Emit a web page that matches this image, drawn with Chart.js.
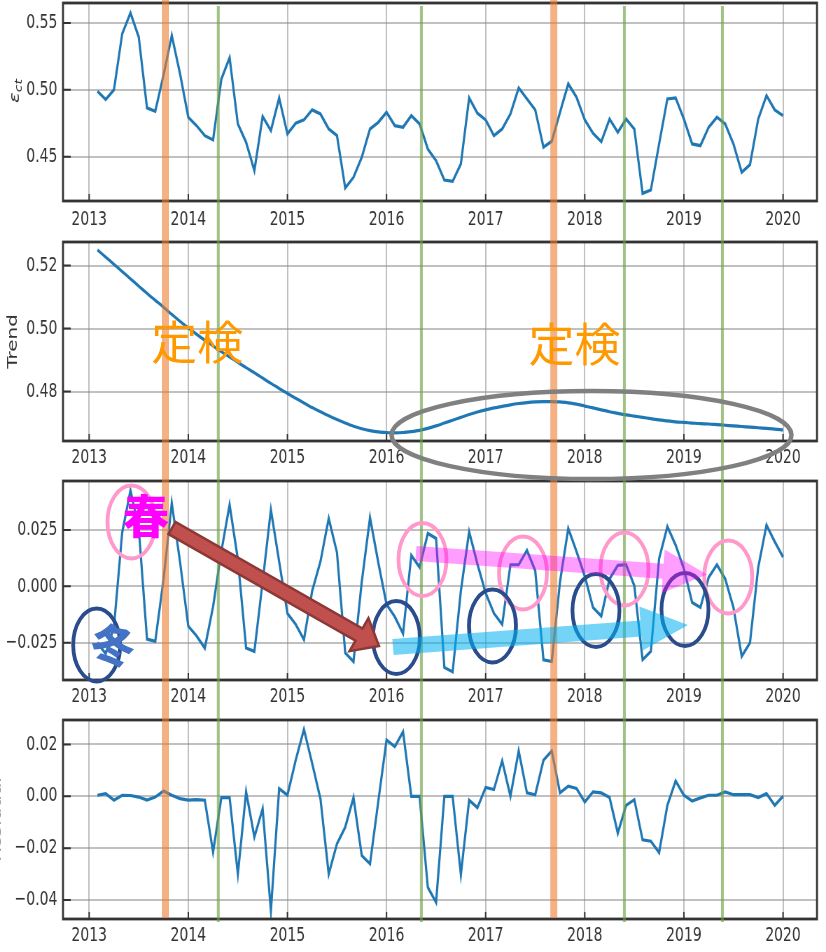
<!DOCTYPE html>
<html>
<head>
<meta charset="utf-8">
<title>ε_ct decomposition</title>
<script src="https://cdn.jsdelivr.net/npm/chart.js@4.4.1/dist/chart.umd.min.js"></script>
<style>
  html, body { margin: 0; padding: 0; background: #fff; }
  #stage { position: relative; width: 826px; height: 952px; overflow: hidden; background: #fff; }
  #overlay { position: absolute; left: 0; top: 0; z-index: 5; }
</style>
</head>
<body>
<div id="stage">
  <canvas id="pEct"></canvas>
  <canvas id="pTrend"></canvas>
  <canvas id="pSeasonal"></canvas>
  <canvas id="pResid"></canvas>
  <canvas id="overlay" width="826" height="952"></canvas>
</div>
<script>
// ---------------------------------------------------------------------------
// Monthly series 2013-01 .. 2019-12 (month-end samples)
// ---------------------------------------------------------------------------
const months = [];
for (let y = 2013; y <= 2019; y++) {
  for (let m = 1; m <= 12; m++) months.push(y + '-' + String(m).padStart(2, '0'));
}
// month-end position on a decimal-year axis
const monthPos = months.map(s => Number(s.slice(0, 4)) + Number(s.slice(5)) / 12);

const yearTicks = [2013, 2014, 2015, 2016, 2017, 2018, 2019, 2020];

const ectValues = [
  0.4990, 0.4927, 0.5000, 0.5420, 0.5575, 0.5395, 0.4865, 0.4840, 0.5110, 0.5407, 0.5120, 0.4795,
  0.4732, 0.4657, 0.4625, 0.5080, 0.5240, 0.4745, 0.4607, 0.4395, 0.4800, 0.4695, 0.4940, 0.4670,
  0.4750, 0.4775, 0.4850, 0.4820, 0.4707, 0.4657, 0.4265, 0.4345, 0.4495, 0.4707, 0.4757, 0.4832,
  0.4732, 0.4720, 0.4807, 0.4745, 0.4557, 0.4470, 0.4325, 0.4315, 0.4445, 0.4940, 0.4825, 0.4775,
  0.4657, 0.4707, 0.4820, 0.5015, 0.4932, 0.4850, 0.4570, 0.4615, 0.4832, 0.5045, 0.4945, 0.4775,
  0.4675, 0.4612, 0.4782, 0.4682, 0.4782, 0.4707, 0.4225, 0.4250, 0.4595, 0.4932, 0.4940, 0.4782,
  0.4595, 0.4582, 0.4720, 0.4795, 0.4745, 0.4595, 0.4382, 0.4440, 0.4782, 0.4957, 0.4850, 0.4807
];

const trendValues = [
  0.5250, 0.5227, 0.5204, 0.5181, 0.5158, 0.5135, 0.5112, 0.5090, 0.5068, 0.5045, 0.5023, 0.5002,
  0.4982, 0.4963, 0.4945, 0.4927, 0.4910, 0.4893, 0.4876, 0.4860, 0.4843, 0.4826, 0.4810, 0.4794,
  0.4779, 0.4764, 0.4749, 0.4736, 0.4723, 0.4711, 0.4700, 0.4690, 0.4682, 0.4676, 0.4672, 0.4670,
  0.4669, 0.4670, 0.4673, 0.4677, 0.4683, 0.4691, 0.4700, 0.4709, 0.4718, 0.4727, 0.4735, 0.4742,
  0.4748, 0.4753, 0.4758, 0.4762, 0.4765, 0.4767, 0.4768, 0.4768, 0.4767, 0.4764, 0.4760, 0.4754,
  0.4748, 0.4742, 0.4736, 0.4731, 0.4726, 0.4722, 0.4718, 0.4714, 0.4710, 0.4707, 0.4704, 0.4702,
  0.4700, 0.4698, 0.4697, 0.4695, 0.4693, 0.4691, 0.4689, 0.4687, 0.4685, 0.4683, 0.4681, 0.4678
];

const seasonalValues = [
  -0.0250, -0.0300, -0.0180, 0.0240, 0.0425, 0.0260, -0.0234, -0.0244, 0.0030, 0.0370, 0.0108, -0.0177,
  -0.0220, -0.0274, -0.0090, 0.0155, 0.0362, 0.0120, -0.0274, -0.0289, 0.0020, 0.0340, 0.0110, -0.0120,
  -0.0169, -0.0237, -0.0020, 0.0110, 0.0302, 0.0150, -0.0296, -0.0334, 0.0020, 0.0305, 0.0106, -0.0080,
  -0.0135, -0.0210, 0.0138, 0.0085, 0.0235, 0.0213, -0.0360, -0.0380, -0.0020, 0.0243, 0.0100, -0.0030,
  -0.0120, -0.0169, 0.0096, 0.0096, 0.0160, 0.0070, -0.0326, -0.0334, 0.0020, 0.0257, 0.0155, 0.0045,
  -0.0094, -0.0132, 0.0033, 0.0093, 0.0096, 0.0003, -0.0326, -0.0289, 0.0123, 0.0265, 0.0183, 0.0078,
  -0.0072, -0.0094, 0.0040, 0.0096, 0.0033, -0.0094, -0.0311, -0.0251, 0.0085, 0.0272, 0.0198, 0.0130
];

const residualValues = [
  0.0004, 0.0010, -0.0015, 0.0004, 0.0003, -0.0003, -0.0015, -0.0003, 0.0020, 0.0004, -0.0009, -0.0015,
  -0.0013, -0.0015, -0.0215, -0.0005, -0.0005, -0.0300, 0.0017, -0.0157, -0.0048, -0.0441, 0.0030, 0.0004,
  0.0139, 0.0258, 0.0126, -0.0010, -0.0300, -0.0183, -0.0119, -0.0005, -0.0228, -0.0260, -0.0020, 0.0217,
  0.0191, 0.0249, 0.0000, 0.0000, -0.0351, -0.0409, 0.0000, 0.0000, -0.0302, -0.0015, -0.0044, 0.0034,
  0.0026, 0.0137, 0.0000, 0.0175, 0.0013, 0.0006, 0.0139, 0.0175, 0.0013, 0.0039, 0.0030, -0.0022,
  0.0017, 0.0013, -0.0005, -0.0142, -0.0035, -0.0013, -0.0168, -0.0173, -0.0217, -0.0035, 0.0059, 0.0004,
  -0.0018, -0.0006, 0.0004, 0.0004, 0.0017, 0.0006, 0.0006, 0.0006, -0.0005, 0.0010, -0.0035, 0.0000
];

// y-axis ticks and their printed labels
const ectTicks = [0.45, 0.50, 0.55];
const ectTickLabels = ['0.45', '0.50', '0.55'];
const trendTicks = [0.48, 0.50, 0.52];
const trendTickLabels = ['0.48', '0.50', '0.52'];
const seasonalTicks = [-0.025, 0, 0.025];
const seasonalTickLabels = ['\u22120.025', '0.000', '0.025'];
const residualTicks = [-0.04, -0.02, 0, 0.02];
const residualTickLabels = ['\u22120.04', '\u22120.02', '0.00', '0.02'];

// event markers (decimal years)
const inspectionYears = [2013.770, 2017.687];           // 定検
const markerYears = [2014.303, 2016.352, 2018.400, 2019.389];

// ---------------------------------------------------------------------------
// Layout / style
// ---------------------------------------------------------------------------
const S = 0.7;                       // horizontal compression of the plot canvases
const CW = Math.round(826 / S);      // unscaled canvas width
const PLOT_LEFT = 63 / S;
const PLOT_RIGHT = 817 / S;
const X_MIN = 2012.736, X_MAX = 2020.343;
const FONT_FAMILY = "'DejaVu Sans', 'Liberation Sans', sans-serif";
const TICK_FONT = { family: FONT_FAMILY, size: 20 };
const INK = '#333333';
const GRID = 'rgba(140,140,140,0.55)';
const LINE_BLUE = '#1f77b4';

// closed dark frame with inward tick marks
const framePlugin = {
  id: 'frame',
  afterDraw(chart) {
    const { ctx, chartArea: a } = chart;
    const sx = chart.scales.x, sy = chart.scales.y;
    ctx.save();
    ctx.strokeStyle = '#333';
    ctx.lineWidth = 2;
    ctx.beginPath();
    sx.ticks.forEach(t => {
      const x = sx.getPixelForValue(t.value);
      ctx.moveTo(x, a.bottom); ctx.lineTo(x, a.bottom - 7);
    });
    sy.ticks.forEach(t => {
      const y = sy.getPixelForValue(t.value);
      ctx.moveTo(a.left, y); ctx.lineTo(a.left + 11, y);
    });
    ctx.stroke();
    ctx.lineWidth = 2.8;
    ctx.strokeRect(a.left, a.top, a.right - a.left, a.bottom - a.top);
    ctx.restore();
  }
};

// rotated math-style label ε_ct for the first panel
const ectTitlePlugin = {
  id: 'ectTitle',
  afterDraw(chart) {
    const ctx = chart.ctx;
    ctx.save();
    ctx.translate(27, 91);
    ctx.rotate(-Math.PI / 2);
    ctx.fillStyle = INK;
    ctx.textBaseline = 'alphabetic';
    ctx.font = 'oblique 20px ' + FONT_FAMILY;
    const w1 = ctx.measureText('\u03b5').width;
    ctx.font = 'oblique 14px ' + FONT_FAMILY;
    const w2 = ctx.measureText('ct').width;
    const start = -(w1 + w2) / 2;
    ctx.font = 'oblique 20px ' + FONT_FAMILY;
    ctx.fillText('\u03b5', start, 0);
    ctx.font = 'oblique 14px ' + FONT_FAMILY;
    ctx.fillText('ct', start + w1, 4);
    ctx.restore();
  }
};

const panels = [
  { id: 'pEct', top: 0, height: 240, padTop: 3, axisH: 39, xPad: 7,
    values: ectValues, min: 0.4168, max: 0.565, ticks: ectTicks, labels: ectTickLabels,
    extra: [ectTitlePlugin] },
  { id: 'pTrend', top: 240, height: 238, padTop: 2, axisH: 37, xPad: 5,
    values: trendValues, min: 0.4643, max: 0.5275, ticks: trendTicks, labels: trendTickLabels,
    title: 'Trend', titlePad: 6.5, smooth: true },
  { id: 'pSeasonal', top: 478, height: 240, padTop: 3, axisH: 38, xPad: 5,
    values: seasonalValues, min: -0.0416, max: 0.0468, ticks: seasonalTicks, labels: seasonalTickLabels },
  { id: 'pResid', top: 718, height: 234, padTop: 2, axisH: 33, xPad: 5,
    values: residualValues, min: -0.0473, max: 0.0294, ticks: residualTicks, labels: residualTickLabels,
    title: 'Residual', titlePad: -16.5, titleColor: '#8a8a8a' }
];

function makeChart(p) {
  const canvas = document.getElementById(p.id);
  canvas.width = CW;
  canvas.height = p.height;
  Object.assign(canvas.style, {
    position: 'absolute', left: '0px', top: p.top + 'px',
    transform: 'scaleX(' + S + ')', transformOrigin: '0 0'
  });
  return new Chart(canvas, {
    type: 'line',
    data: {
      datasets: [{
        data: monthPos.map((x, i) => ({ x: x, y: p.values[i] })),
        borderColor: LINE_BLUE,
        borderWidth: 3.2,
        pointRadius: 0,
        tension: p.smooth ? 0.3 : 0,
        fill: false
      }]
    },
    options: {
      responsive: false,
      animation: false,
      devicePixelRatio: 1,
      events: [],
      layout: { padding: { top: p.padTop, right: CW - PLOT_RIGHT, left: 0, bottom: 0 } },
      plugins: { legend: { display: false }, tooltip: { enabled: false } },
      scales: {
        x: {
          type: 'linear', min: X_MIN, max: X_MAX,
          afterBuildTicks: s => { s.ticks = yearTicks.map(v => ({ value: v })); },
          afterFit: s => { s.height = p.axisH; s.paddingLeft = 0; s.paddingRight = 0; },
          grid: { color: GRID, lineWidth: 2, drawTicks: false },
          border: { display: false },
          ticks: { font: TICK_FONT, color: INK, padding: p.xPad, maxRotation: 0, autoSkip: false,
                   callback: v => String(v) }
        },
        y: {
          type: 'linear', min: p.min, max: p.max,
          afterBuildTicks: s => { s.ticks = p.ticks.map(v => ({ value: v })); },
          afterFit: s => { s.width = PLOT_LEFT; s.paddingTop = 0; s.paddingBottom = 0; },
          grid: { color: GRID, lineWidth: 2, drawTicks: false },
          border: { display: false },
          ticks: { font: TICK_FONT, color: INK, padding: 8, callback: (v, i) => p.labels[i] },
          title: p.title
            ? { display: true, text: p.title, color: p.titleColor || INK, font: TICK_FONT,
                padding: { top: p.titlePad, bottom: 0 } }
            : { display: false }
        }
      }
    },
    plugins: [framePlugin].concat(p.extra || [])
  });
}

const charts = panels.map(makeChart);

// ---------------------------------------------------------------------------
// Callouts drawn on top of the four panels
// ---------------------------------------------------------------------------
const TREND = 1, SEASONAL = 2;

const inspectionLabels = [[2014.090, 0.49575], [2017.896, 0.49511]];   // panel: trend
const trendHighlight = { at: [2018.068, 0.46621], rx: 200, ry: 44 };    // panel: trend
const springCircles = [[2013.427, 0.02859], [2016.363, 0.01193], [2017.377, 0.00593],
                       [2018.401, 0.00771], [2019.448, 0.00415]];      // panel: seasonal
const winterCircles = [[2013.076, -0.02606], [2016.099, -0.02272], [2017.069, -0.01762],
                       [2018.113, -0.01073], [2019.011, -0.01029]];    // panel: seasonal
const shiftArrow = { from: [2013.836, 0.02592], to: [2015.924, -0.02650] };
const springArrow = { from: [2016.297, 0.01459], to: [2019.233, 0.00526] };
const winterArrow = { from: [2016.065, -0.02695], to: [2019.041, -0.01717] };
const springLabel = [2013.573, 0.03125];
const winterLabel = [2013.240, -0.02606];

function pagePoint(pi, pt) {
  const ch = charts[pi];
  return [ch.scales.x.getPixelForValue(pt[0]) * S,
          panels[pi].top + ch.scales.y.getPixelForValue(pt[1])];
}

function drawArrow(ctx, a, b, shaft, headLen, headHalf) {
  const dx = b[0] - a[0], dy = b[1] - a[1];
  const len = Math.hypot(dx, dy);
  const ux = dx / len, uy = dy / len;
  const nx = -uy, ny = ux;
  const bx = b[0] - ux * headLen, by = b[1] - uy * headLen;
  const h = shaft / 2;
  ctx.beginPath();
  ctx.moveTo(a[0] + nx * h, a[1] + ny * h);
  ctx.lineTo(bx + nx * h, by + ny * h);
  ctx.lineTo(bx + nx * headHalf, by + ny * headHalf);
  ctx.lineTo(b[0], b[1]);
  ctx.lineTo(bx - nx * headHalf, by - ny * headHalf);
  ctx.lineTo(bx - nx * h, by - ny * h);
  ctx.lineTo(a[0] - nx * h, a[1] - ny * h);
  ctx.closePath();
}

function drawOverlay() {
  const ctx = document.getElementById('overlay').getContext('2d');
  const c0 = charts[0], c3 = charts[3];
  const top0 = panels[0].top + c0.chartArea.top;
  const bottom3 = panels[3].top + c3.chartArea.bottom;
  const xPage = v => c0.scales.x.getPixelForValue(v) * S;

  // inspection periods (orange) and markers (green)
  ctx.fillStyle = 'rgba(237,125,49,0.6)';
  inspectionYears.forEach(v => ctx.fillRect(xPage(v) - 3.5, top0 - 3, 7, bottom3 - top0 + 2));
  ctx.fillStyle = 'rgba(112,160,70,0.65)';
  markerYears.forEach(v => ctx.fillRect(xPage(v) - 1.5, top0 + 3, 3, bottom3 - top0));

  // trend highlight
  let [cx, cy] = pagePoint(TREND, trendHighlight.at);
  ctx.strokeStyle = '#808080';
  ctx.lineWidth = 4.5;
  ctx.beginPath();
  ctx.ellipse(cx, cy, trendHighlight.rx, trendHighlight.ry, 0, 0, Math.PI * 2);
  ctx.stroke();

  // seasonal circles
  ctx.lineWidth = 3.8;
  ctx.strokeStyle = '#ff99cc';
  springCircles.forEach(pt => {
    const [x, y] = pagePoint(SEASONAL, pt);
    ctx.beginPath(); ctx.ellipse(x, y, 24, 36.5, 0, 0, Math.PI * 2); ctx.stroke();
  });
  ctx.strokeStyle = '#2b4c8c';
  winterCircles.forEach(pt => {
    const [x, y] = pagePoint(SEASONAL, pt);
    ctx.beginPath(); ctx.ellipse(x, y, 23.5, 36.5, 0, 0, Math.PI * 2); ctx.stroke();
  });

  // winter / spring drift arrows
  ctx.fillStyle = 'rgba(0,176,240,0.55)';
  drawArrow(ctx, pagePoint(SEASONAL, winterArrow.from), pagePoint(SEASONAL, winterArrow.to), 16, 47, 22);
  ctx.fill();
  ctx.fillStyle = 'rgba(255,0,255,0.38)';
  drawArrow(ctx, pagePoint(SEASONAL, springArrow.from), pagePoint(SEASONAL, springArrow.to), 15, 44, 22);
  ctx.fill();

  // spring-to-winter shift arrow
  ctx.fillStyle = '#c0504d';
  ctx.strokeStyle = '#8c3836';
  ctx.lineWidth = 2.5;
  ctx.lineJoin = 'miter';
  drawArrow(ctx, pagePoint(SEASONAL, shiftArrow.from), pagePoint(SEASONAL, shiftArrow.to), 14, 23, 19);
  ctx.fill();
  ctx.stroke();

  // labels
  ctx.textAlign = 'center';
  ctx.textBaseline = 'middle';
  ctx.fillStyle = '#ff9900';
  ctx.font = '46px "Noto Sans CJK JP", sans-serif';
  inspectionLabels.forEach(pt => {
    const [x, y] = pagePoint(TREND, pt);
    ctx.fillText('定検', x, y);
  });

  ctx.fillStyle = '#ff00ff';
  ctx.font = '900 46px "Noto Sans CJK JP", sans-serif';
  [cx, cy] = pagePoint(SEASONAL, springLabel);
  ctx.fillText('春', cx, cy);

  ctx.fillStyle = '#4472c4';
  ctx.font = '900 44px "Noto Sans CJK JP", sans-serif';
  [cx, cy] = pagePoint(SEASONAL, winterLabel);
  ctx.save();
  ctx.translate(cx, cy);
  ctx.rotate(10 * Math.PI / 180);
  ctx.fillText('冬', 0, 0);
  ctx.restore();
}

drawOverlay();
</script>
</body>
</html>
